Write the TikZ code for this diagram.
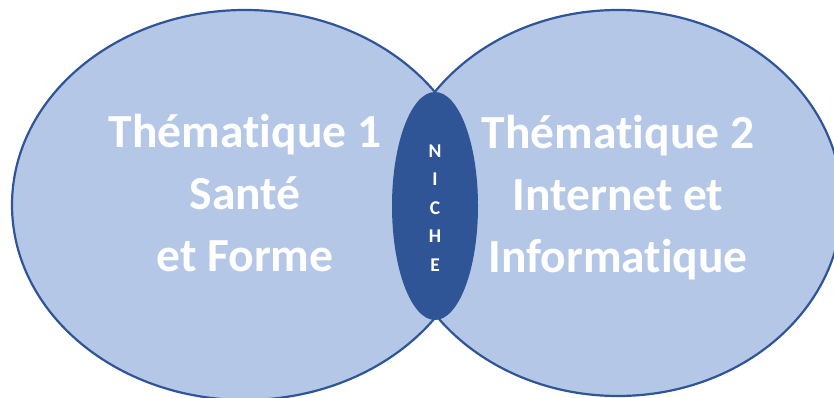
\documentclass[tikz,border=0pt]{standalone}
\usepackage{fontspec}
\setmainfont{Carlito}[Ligatures=NoCommon]
\usetikzlibrary{shapes.geometric}
\definecolor{PaleBlue}{HTML}{B4C7E7}
\definecolor{DeepBlue}{HTML}{2F5597}

\begin{document}
\begin{tikzpicture}[x=1pt,y=1pt,
  theme/.style={ellipse,fill=PaleBlue,draw=DeepBlue,line width=2.2pt,inner sep=0pt},
  themetext/.style={text=white,align=center,font=\fontsize{47.5}{62}\selectfont\bfseries}]
\useasboundingbox (0,0) rectangle (834,-398);
\clip (0,0) rectangle (834,-398);
% the two themes
\node[theme,minimum width=466pt,minimum height=390pt] (sante) at (245,-205) {};
\node[theme,minimum width=448pt,minimum height=386pt] (info) at (618,-203) {};
% overlap
\node[ellipse,fill=DeepBlue,inner sep=0pt,minimum width=86pt,minimum height=228pt] (niche) at (435,-206) {};
\node[text=white,align=center,font=\fontsize{19.5}{28.5}\selectfont\bfseries] (nicheText) at ([yshift=-2pt]niche.center) {N\\I\\C\\H\\E};
\node[themetext] (santeText) at ([yshift=12pt]sante.center) {Thématique 1\\Santé\\et Forme};
\node[themetext] (infoText) at ([yshift=5pt]info.center) {Thématique 2\\Internet et\\Informatique};
\end{tikzpicture}
\end{document}
